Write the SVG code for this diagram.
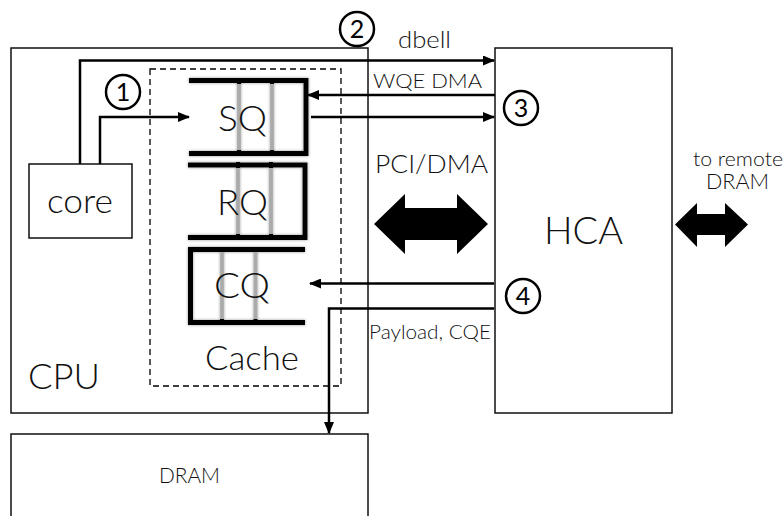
<svg xmlns="http://www.w3.org/2000/svg" width="784" height="516" viewBox="0 0 784 516">
<style>
text{font-family:Lato,"Open Sans","Liberation Sans",sans-serif;font-weight:300;fill:#111}
.box{fill:#fff;stroke:#111;stroke-width:1.5}
.conn{fill:none;stroke:#000;stroke-width:2.5}
.bar{fill:none;stroke:#000;stroke-width:5;stroke-linecap:butt;stroke-linejoin:miter}
.gray{stroke:#aaa;stroke-width:3.5}
.tick{fill:#000}
.num{fill:#fff;stroke:#000;stroke-width:2.5}
.numt{font-size:25px;text-anchor:middle;fill:#000;font-weight:400}
.fat{fill:#000}
</style>
<defs>
<marker id="ah" markerWidth="12" markerHeight="10" refX="11" refY="5" orient="auto" markerUnits="userSpaceOnUse">
<path d="M0,0 L12,5 L0,10 Z" fill="#000"/>
</marker>
<filter id="sh" x="-10%" y="-10%" width="120%" height="120%">
<feDropShadow dx="0" dy="0" stdDeviation="1.5" flood-color="#777" flood-opacity="0.8"/>
</filter>
</defs>

<g id="cpu">
<rect class="box" x="11" y="48" width="357" height="365"/>
<text x="28" y="389" style="font-size:36px" textLength="72" lengthAdjust="spacingAndGlyphs">CPU</text>
</g>

<g id="cache">
<rect x="150" y="69" width="191" height="317" fill="none" stroke="#000" stroke-width="1.3" stroke-dasharray="6,4"/>
<text x="205" y="370" style="font-size:34px" textLength="94" lengthAdjust="spacingAndGlyphs">Cache</text>
</g>

<g id="core">
<rect class="box" x="29" y="164" width="103" height="74"/>
<text x="47" y="213" style="font-size:33px" textLength="66" lengthAdjust="spacingAndGlyphs">core</text>
</g>

<g id="sq">
<g filter="url(#sh)">
<line class="gray" x1="239" y1="80" x2="239" y2="155"/>
<line class="gray" x1="272" y1="80" x2="272" y2="155"/>
<path class="bar" d="M189,80.5 H306 V153.5 H189"/>
<rect class="tick" x="237" y="78" width="4" height="6"/><rect class="tick" x="270" y="78" width="4" height="6"/>
<rect class="tick" x="237" y="150" width="4" height="6"/><rect class="tick" x="270" y="150" width="4" height="6"/>
</g>
<text x="218" y="131" style="font-size:36px" textLength="49" lengthAdjust="spacingAndGlyphs">SQ</text>
</g>

<g id="rq">
<g filter="url(#sh)">
<line class="gray" x1="238" y1="165" x2="238" y2="238"/>
<line class="gray" x1="271" y1="165" x2="271" y2="238"/>
<path class="bar" d="M188,165 H305 V237.5 H188"/>
<rect class="tick" x="236" y="162" width="4" height="6"/><rect class="tick" x="269" y="162" width="4" height="6"/>
<rect class="tick" x="236" y="234" width="4" height="6"/><rect class="tick" x="269" y="234" width="4" height="6"/>
</g>
<text x="217" y="215" style="font-size:36px" textLength="51" lengthAdjust="spacingAndGlyphs">RQ</text>
</g>

<g id="cq">
<g filter="url(#sh)">
<line class="gray" x1="222" y1="250" x2="222" y2="323"/>
<line class="gray" x1="255.5" y1="250" x2="255.5" y2="323"/>
<path class="bar" d="M305,249.5 H190.5 V322.5 H305"/>
<rect class="tick" x="220" y="319" width="4" height="6"/><rect class="tick" x="253.5" y="319" width="4" height="6"/>
</g>
<text x="214" y="298" style="font-size:36px" textLength="56" lengthAdjust="spacingAndGlyphs">CQ</text>
</g>

<g id="hca">
<rect class="box" x="495" y="48" width="177" height="365"/>
<text x="544" y="244" style="font-size:37px" textLength="79" lengthAdjust="spacingAndGlyphs">HCA</text>
</g>

<g id="dram">
<rect class="box" x="11" y="434" width="357" height="100"/>
<text x="159" y="483" style="font-size:21px" textLength="61" lengthAdjust="spacingAndGlyphs">DRAM</text>
</g>

<g id="connectors">
<path class="conn" d="M80,164 V60.5 H494" marker-end="url(#ah)"/>
<path class="conn" d="M100,164 V117 H189" marker-end="url(#ah)"/>
<path class="conn" d="M495,95 H308" marker-end="url(#ah)"/>
<path class="conn" d="M311,117 H494" marker-end="url(#ah)"/>
<path class="conn" d="M494,283.5 H310" marker-end="url(#ah)"/>
<path class="conn" d="M494,308.5 H329 V433" marker-end="url(#ah)"/>
<path class="fat" d="M374,224 L405,194 V208 H457 V194 L488,224 L457,254 V240 H405 V254 Z"/>
<path class="fat" d="M675,224.5 L697,203 V214 H725 V203 L748,224.5 L725,247 V235 H697 V247 Z"/>
</g>

<g id="labels">
<text x="398" y="48" style="font-size:23px" textLength="53" lengthAdjust="spacingAndGlyphs">dbell</text>
<text x="373" y="88" style="font-size:19px" textLength="109" lengthAdjust="spacingAndGlyphs">WQE DMA</text>
<text x="375" y="173" style="font-size:26px" textLength="113" lengthAdjust="spacingAndGlyphs">PCI/DMA</text>
<text x="369" y="339" style="font-size:19px" textLength="122" lengthAdjust="spacingAndGlyphs">Payload, CQE</text>
<text x="693" y="166" style="font-size:20px" textLength="90" lengthAdjust="spacingAndGlyphs">to remote</text>
<text x="706" y="189" style="font-size:21px" textLength="63" lengthAdjust="spacingAndGlyphs">DRAM</text>
</g>

<g id="step1"><circle class="num" cx="123" cy="92" r="17"/><text class="numt" x="123" y="101">1</text></g>
<g id="step2"><circle class="num" cx="357" cy="29" r="17"/><text class="numt" x="357" y="38">2</text></g>
<g id="step3"><circle class="num" cx="521" cy="108" r="17"/><text class="numt" x="521" y="117">3</text></g>
<g id="step4"><circle class="num" cx="523" cy="296" r="17"/><text class="numt" x="523" y="305">4</text></g>
</svg>
